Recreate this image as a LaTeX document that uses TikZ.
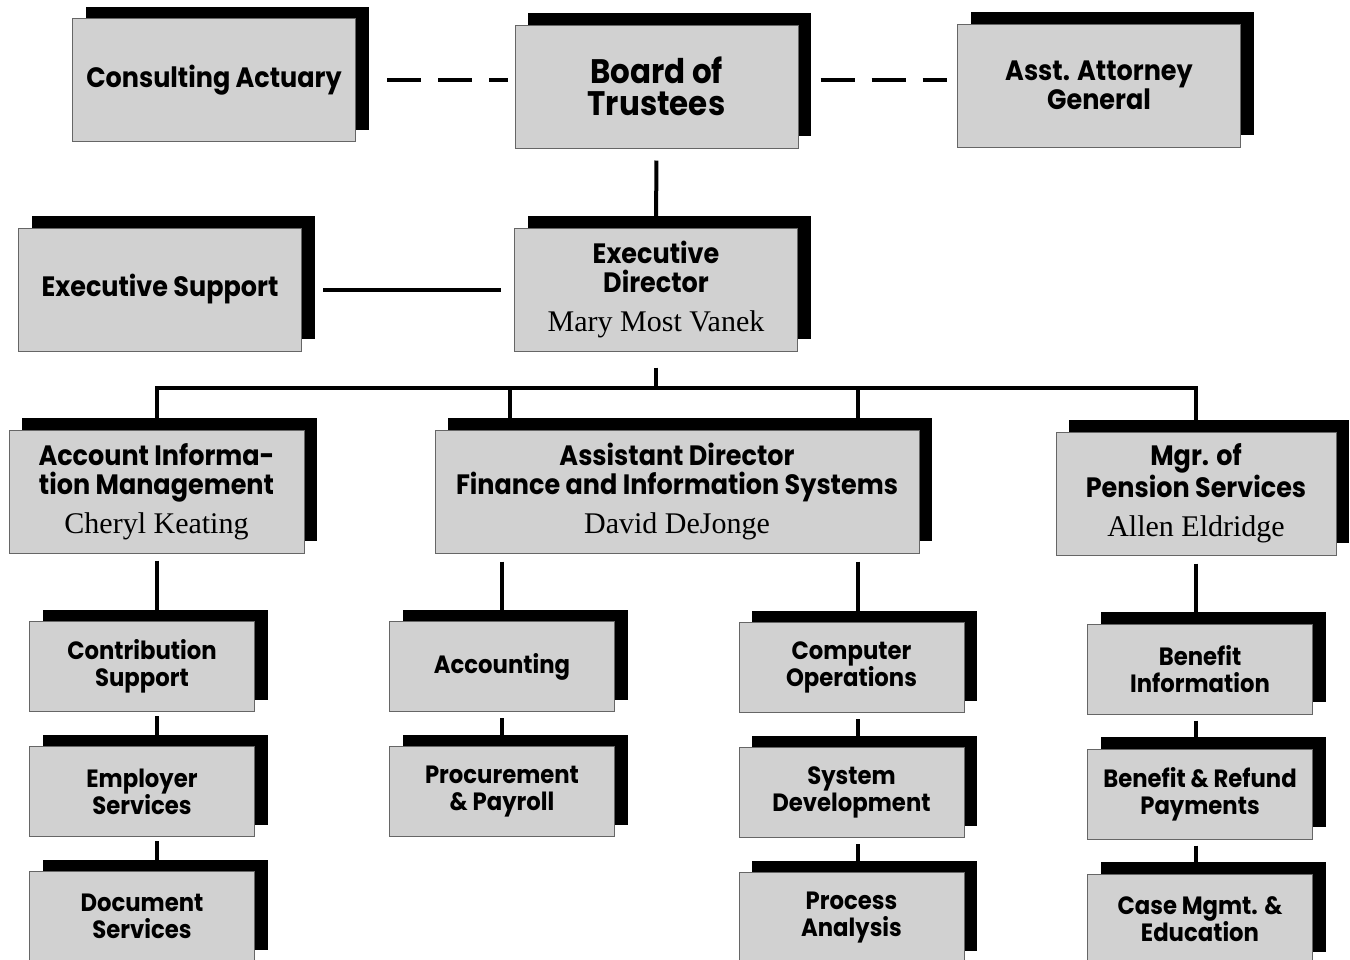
\documentclass[tikz,border=0pt]{standalone}
\usepackage{fontspec}
\setmainfont{Liberation Serif}
\newfontfamily\headfont{Poppins}[FakeStretch=0.91]
\usetikzlibrary{shadows, positioning}

\newcommand\person[1]{{\normalfont\fontsize{15}{15}\selectfont #1}}

\begin{document}
\begin{tikzpicture}[x=0.5pt, y=-0.5pt, node distance=17pt,
    unit/.style={draw=black!60, line width=0.5pt, fill=black!18, inner sep=0pt, align=center,
      general shadow={fill=black, shadow xshift=6.5pt, shadow yshift=6pt}},
    topbox/.style={unit, minimum width=141.5pt, minimum height=61.5pt,
      font=\headfont\bfseries\fontsize{14}{14.5}\selectfont},
    midbox/.style={unit, minimum height=61.5pt,
      font=\headfont\bfseries\fontsize{14}{14.5}\selectfont},
    subbox/.style={unit, minimum width=112.5pt, minimum height=45pt,
      font=\headfont\bfseries\fontsize{12.5}{13.5}\selectfont},
    link/.style={line width=2pt},
    dashlink/.style={line width=2pt, dash pattern=on 17pt off 8.5pt}]
    \useasboundingbox (0,0) rectangle (1350,959);

    % top row
    \node [topbox] (actuary) at (214,80) {Consulting Actuary};
    \node [topbox, font=\headfont\bfseries\fontsize{17}{16}\selectfont] (board) at (656.5,86.5) {Board of\\Trustees};
    \node [topbox] (attorney) at (1099,85.5) {Asst. Attorney\\General};

    % director level
    \node [topbox] (support) at (160,289.5) {Executive Support};
    \node [topbox] (director) at (656,289.5) {Executive\\Director\\[5pt]\person{Mary Most Vanek}};

    % managers
    \node [midbox, minimum width=147.5pt] (aim) at (156.5,491.5)
      {Account Informa-\\tion Management\\[5pt]\person{Cheryl Keating}};
    \node [midbox, minimum width=242pt] (asstdir) at (677,491.5)
      {Assistant Director\\Finance and Information Systems\\[5pt]\person{David DeJonge}};
    \node [midbox, minimum width=140pt] (pension) at (1196,493.5)
      {Mgr. of\\Pension Services\\[5pt]\person{Allen Eldridge}};

    % units
    \node [subbox] (contrib) at (142,666.5) {Contribution\\Support};
    \node [subbox, below=of contrib] (employer) {Employer\\Services};
    \node [subbox, below=of employer] (document) {Document\\Services};
    \node [subbox] (accounting) at (502,666.5) {Accounting};
    \node [subbox, below=of accounting] (procure) {Procurement\\\& Payroll};
    \node [subbox] (computer) at (851.5,667.5) {Computer\\Operations};
    \node [subbox, below=of computer] (sysdev) {System\\Development};
    \node [subbox, below=of sysdev] (process) {Process\\Analysis};
    \node [subbox] (benefit) at (1200,669) {Benefit\\Information};
    \node [subbox, below=of benefit] (refund) {Benefit \& Refund\\Payments};
    \node [subbox, below=of refund] (casemgmt) {Case Mgmt. \&\\Education};

    % advisory links
    \draw [dashlink, shorten <=15.5pt, shorten >=3.5pt] (actuary.east) -- (actuary.east -| board.west);
    \draw [dashlink, shorten <=11pt, shorten >=5pt] ([yshift=3.5pt]board.east) -- ([yshift=3.5pt]board.east -| attorney.west);
    \draw [link, shorten <=6pt] (board) -- (director);
    \draw [link, shorten <=10.5pt, shorten >=6.5pt] (support) -- (director);

    % bus
    \coordinate (bus) at (652,388);
    \coordinate (adl) at ([xshift=-83.5pt]asstdir.north);
    \coordinate (adr) at ([xshift=90.5pt]asstdir.north);
    \draw [link, shorten <=8pt] (director.south) -- (director.south |- bus);
    \draw [link] (aim.north) |- (bus) -| (pension.north);
    \draw [link] (adl |- bus) -- (adl);
    \draw [link] (adr |- bus) -- (adr);

    % unit chains
    \draw [link, shorten <=3.5pt] (aim.south) -- (aim.south |- contrib.north);
    \draw [link, shorten <=2pt] (aim.south |- contrib.south) -- (aim.south |- employer.north);
    \draw [link, shorten <=2pt] (aim.south |- employer.south) -- (aim.south |- document.north);
    \draw [link, shorten <=4pt] (accounting.north |- asstdir.south) -- (accounting.north);
    \draw [link, shorten <=3pt] (accounting.south) -- (procure.north);
    \draw [link, shorten <=4pt] (adr |- asstdir.south) -- (adr |- computer.north);
    \draw [link, shorten <=3pt] (adr |- computer.south) -- (adr |- sysdev.north);
    \draw [link, shorten <=3pt] (adr |- sysdev.south) -- (adr |- process.north);
    \draw [link, shorten <=4pt] (pension.south) -- (pension.south |- benefit.north);
    \draw [link, shorten <=3pt] (pension.south |- benefit.south) -- (pension.south |- refund.north);
    \draw [link, shorten <=3pt] (pension.south |- refund.south) -- (pension.south |- casemgmt.north);
\end{tikzpicture}
\end{document}
